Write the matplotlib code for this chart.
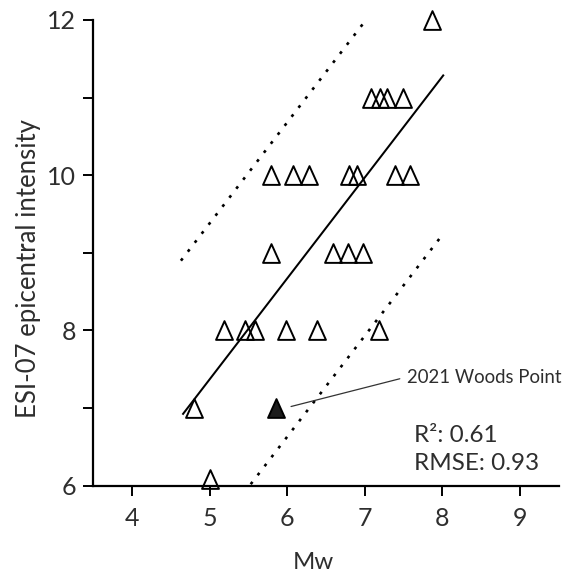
import matplotlib
matplotlib.use("Agg")
import numpy as np
import matplotlib.pyplot as plt
from matplotlib.path import Path
from matplotlib.markers import MarkerStyle

# ---------------- data ----------------
mw_open = [7.87,
           7.08, 7.20, 7.29, 7.49,
           5.79, 6.08, 6.28, 6.80, 6.90, 7.39, 7.58,
           5.79, 6.59, 6.79, 6.98,
           5.19, 5.46, 5.59, 5.99, 6.38, 7.19,
           4.80,
           5.00]
esi_open = [12,
            11, 11, 11, 11,
            10, 10, 10, 10, 10, 10, 10,
            9, 9, 9, 9,
            8, 8, 8, 8, 8, 8,
            7,
            6.08]
mw_woods = [5.85]
esi_woods = [7]

fit_slope = 1.30
fit_intercept = 0.87
fit_x = [4.65, 8.02]
upper_intercept = 2.88
upper_x = [4.63, 7.02]
lower_intercept = -1.17
lower_x = [5.53, 7.99]

annot_text = "2021 Woods Point"
annot_xy = (6.05, 7.02)
annot_text_xy = (7.54, 7.40)

stats_lines = ["R²: 0.61", "RMSE: 0.93"]
stats_x = 7.635
stats_y = [6.567, 6.202]

x_ticks = [4, 5, 6, 7, 8, 9]
y_ticks = [6, 7, 8, 9, 10, 11, 12]
y_ticklabels = ["6", "", "8", "", "10", "", "12"]
xlim = (3.5, 9.5)
ylim = (6, 12)
x_label = "Mw"
y_label = "ESI-07 epicentral intensity"

# ---------------- style ----------------
plt.rcParams["font.family"] = ["Lato", "DejaVu Sans"]
text_color = "#2e2e2e"

fig = plt.figure(figsize=(5.65, 5.73), dpi=100)
ax = fig.add_axes([0.1651, 0.1524, 0.8236, 0.8127])

tri = Path([(0, 1), (-0.9, -1), (0.9, -1), (0, 1)],
           [Path.MOVETO, Path.LINETO, Path.LINETO, Path.CLOSEPOLY])
tri_marker = MarkerStyle(tri, joinstyle="miter")

# regression line and bounds
fx = np.array(fit_x)
ax.plot(fx, fit_slope * fx + fit_intercept, color="black", lw=1.45,
        solid_capstyle="butt", zorder=2)
ux = np.array(upper_x)
ax.plot(ux, fit_slope * ux + upper_intercept, color="black", lw=1.9,
        ls=(0, (1.1, 3.2)), zorder=2)
lx = np.array(lower_x)
ax.plot(lx, fit_slope * lx + lower_intercept, color="black", lw=1.9,
        ls=(0, (1.1, 3.2)), zorder=2)

# points
ax.plot(mw_open, esi_open, ls="none", marker=tri_marker, ms=13.5,
        mfc="none", mec="black", mew=1.4, clip_on=False, zorder=3)
ax.plot(mw_woods, esi_woods, ls="none", marker=tri_marker, ms=13.5,
        mfc="#1c1c1c", mec="black", mew=1.4, clip_on=False, zorder=3)

# annotation
ax.annotate(annot_text, xy=annot_xy, xytext=annot_text_xy,
            fontsize=13.4, color=text_color, va="center", ha="left",
            arrowprops=dict(arrowstyle="-", lw=0.9, color="#333333",
                            shrinkA=3, shrinkB=0, relpos=(0, 0.5)))

for s, yy in zip(stats_lines, stats_y):
    ax.text(stats_x, yy, s, fontsize=17.5, color=text_color,
            ha="left", va="baseline")

# axes
ax.set_xlim(*xlim)
ax.set_ylim(*ylim)
ax.set_xticks(x_ticks)
ax.set_xticklabels([str(t) for t in x_ticks])
ax.set_yticks(y_ticks)
ax.set_yticklabels(y_ticklabels)
for side in ["top", "right"]:
    ax.spines[side].set_visible(False)
for side in ["left", "bottom"]:
    ax.spines[side].set_linewidth(1.6)
    ax.spines[side].set_color("black")
ax.tick_params(axis="both", direction="out", length=7.2, width=1.4,
               color="black", labelsize=18, labelcolor=text_color)
ax.tick_params(axis="y", pad=5.3)
ax.tick_params(axis="x", pad=8.5)

ax.set_xlabel(x_label, fontsize=17.3, color=text_color)
ax.set_ylabel(y_label, fontsize=18.5, color=text_color)
ax.xaxis.set_label_coords(0.473, -0.1417)
ax.xaxis.label.set_va("top")
ax.yaxis.set_label_coords(-0.113, 0.466)

fig.savefig("out.png", dpi=100, facecolor="white")
